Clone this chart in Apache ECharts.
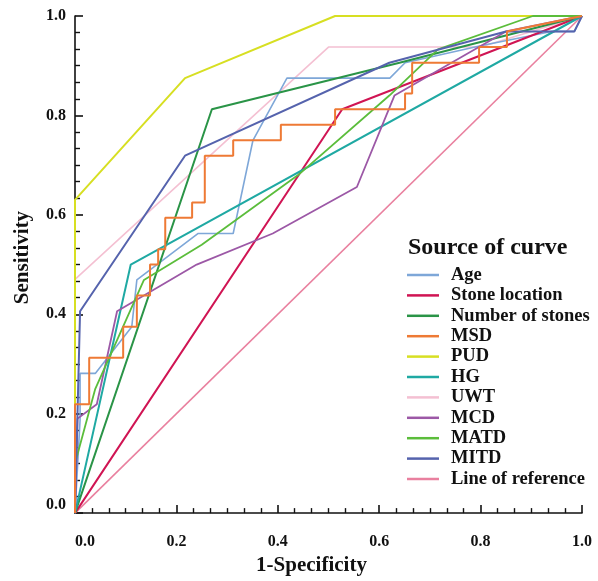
<!DOCTYPE html>
<html><head><meta charset="utf-8">
<script src="https://cdn.jsdelivr.net/npm/echarts@6/dist/echarts.min.js"></script>
<style>html,body{margin:0;padding:0;background:#fff}#c{width:598px;height:581px}</style>
</head><body><div id="c"></div>
<script>
const seriesNames = ['Age','Stone location','Number of stones','MSD','PUD','HG','UWT','MCD','MATD','MITD','Line of reference'];
const xTicks = ['0.0','0.2','0.4','0.6','0.8','1.0'];
const age = [[0,0],[0.01,0.1875],[0.01,0.281],[0.04,0.281],[0.112,0.375],[0.122,0.469],[0.243,0.5625],[0.312,0.5625],[0.351,0.75],[0.418,0.875],[0.621,0.875],[0.651,0.906],[0.8,0.94],[0.94,0.969],[0.985,0.969],[1,1]];
const stoneLocation = [[0,0],[0.527,0.8125],[1,1]];
const numberOfStones = [[0,0],[0.27,0.8125],[0.64,0.906],[1,1]];
const msd = [[0,0],[0,0.219],[0.028,0.219],[0.028,0.3125],[0.095,0.3125],[0.095,0.375],[0.122,0.375],[0.122,0.4375],[0.148,0.4375],[0.148,0.5],[0.164,0.5],[0.164,0.531],[0.178,0.531],[0.178,0.594],[0.231,0.594],[0.231,0.625],[0.256,0.625],[0.256,0.719],[0.312,0.719],[0.312,0.75],[0.406,0.75],[0.406,0.781],[0.513,0.781],[0.513,0.8125],[0.651,0.8125],[0.651,0.844],[0.665,0.844],[0.665,0.906],[0.797,0.906],[0.797,0.9375],[0.852,0.9375],[0.852,0.969],[1,1]];
const pud = [[0,0],[0,0.63],[0.217,0.875],[0.513,1],[1,1]];
const hg = [[0,0],[0.11,0.5],[1,1]];
const uwt = [[0,0],[0,0.47],[0.5,0.9375],[0.8,0.9375],[1,1]];
const mcd = [[0,0],[0.005,0.19],[0.043,0.219],[0.083,0.406],[0.24,0.5],[0.39,0.5625],[0.556,0.656],[0.63,0.84],[0.85,0.969],[1,1]];
const matd = [[0,0],[0,0.1],[0.04,0.25],[0.136,0.469],[0.25,0.54],[0.44,0.68],[0.62,0.84],[0.716,0.933],[0.903,1],[1,1]];
const mitd = [[0,0],[0.01,0.406],[0.217,0.719],[0.62,0.906],[0.85,0.969],[0.985,0.969],[1,1]];
const reference = [[0,0],[1,1]];

const dataList = [age, stoneLocation, numberOfStones, msd, pud, hg, uwt, mcd, matd, mitd, reference];
const colors = ['#7ea7d8','#d01453','#2a9447','#ee7a35','#d7df22','#1fa9a3','#f4c0d2','#9c58a6','#5bbd3b','#5563ad','#e9809f'];
const widths = [1.6,2,2,2,2,2,1.6,1.8,1.8,2,1.6];
const zs = [3,3,3,4,3,3,2,3,3,3,1];

const font = '"Liberation Serif","Times New Roman",serif';
const chart = echarts.init(document.getElementById('c'), null, {renderer:'canvas'});
const series = seriesNames.map((n,i)=>({
  name:n, type:'line', data:dataList[i], showSymbol:false, symbol:'none',
  lineStyle:{width:widths[i], color:colors[i]}, itemStyle:{color:colors[i]},
  z:zs[i], animation:false
}));
const axisCommon = {
  type:'value', min:0, max:1, interval:0.2,
  axisLine:{show:true, lineStyle:{color:'#111', width:1.6}},
  axisTick:{show:true, inside:true, length:8, lineStyle:{color:'#111', width:1.6}},
  minorTick:{show:true, splitNumber:6, length:5, lineStyle:{color:'#111', width:1.4}},
  splitLine:{show:false},
  axisLabel:{fontFamily:font, fontWeight:'bold', fontSize:16, color:'#111', formatter:v=>v.toFixed(1)},
  nameLocation:'middle',
  nameTextStyle:{fontFamily:font, fontWeight:'bold', fontSize:21, color:'#111'}
};
chart.setOption({
  animation:false,
  backgroundColor:'#fff',
  grid:{left:75, right:16, top:16, bottom:58, containLabel:false},
  title:{text:'Source of curve', left:403, top:231, textStyle:{fontFamily:font, fontWeight:'bold', fontSize:24, color:'#111'}},
  legend:{
    orient:'vertical', left:402, top:260, icon:'rect', itemWidth:32, itemHeight:2.5, itemGap:0.4,
    data:seriesNames,
    textStyle:{fontFamily:font, fontWeight:'bold', fontSize:18.5, color:'#111', lineHeight:20, padding:[0,0,0,7]}
  },
  xAxis:Object.assign({}, axisCommon, {
    name:'1-Specificity', nameGap:33,
    nameTextStyle:Object.assign({}, axisCommon.nameTextStyle, {padding:[0,34,0,0]}),
    axisLabel:Object.assign({}, axisCommon.axisLabel, {margin:21, alignMinLabel:'left', formatter:(v,i)=>xTicks[Math.round(v/0.2)]})
  }),
  yAxis:Object.assign({}, axisCommon, {
    name:'Sensitivity', nameGap:42,
    nameTextStyle:Object.assign({}, axisCommon.nameTextStyle, {padding:[0,0,0,14]}),
    axisLabel:Object.assign({}, axisCommon.axisLabel, {margin:9, verticalAlignMinLabel:'bottom'})
  }),
  series:series
});
</script></body></html>
